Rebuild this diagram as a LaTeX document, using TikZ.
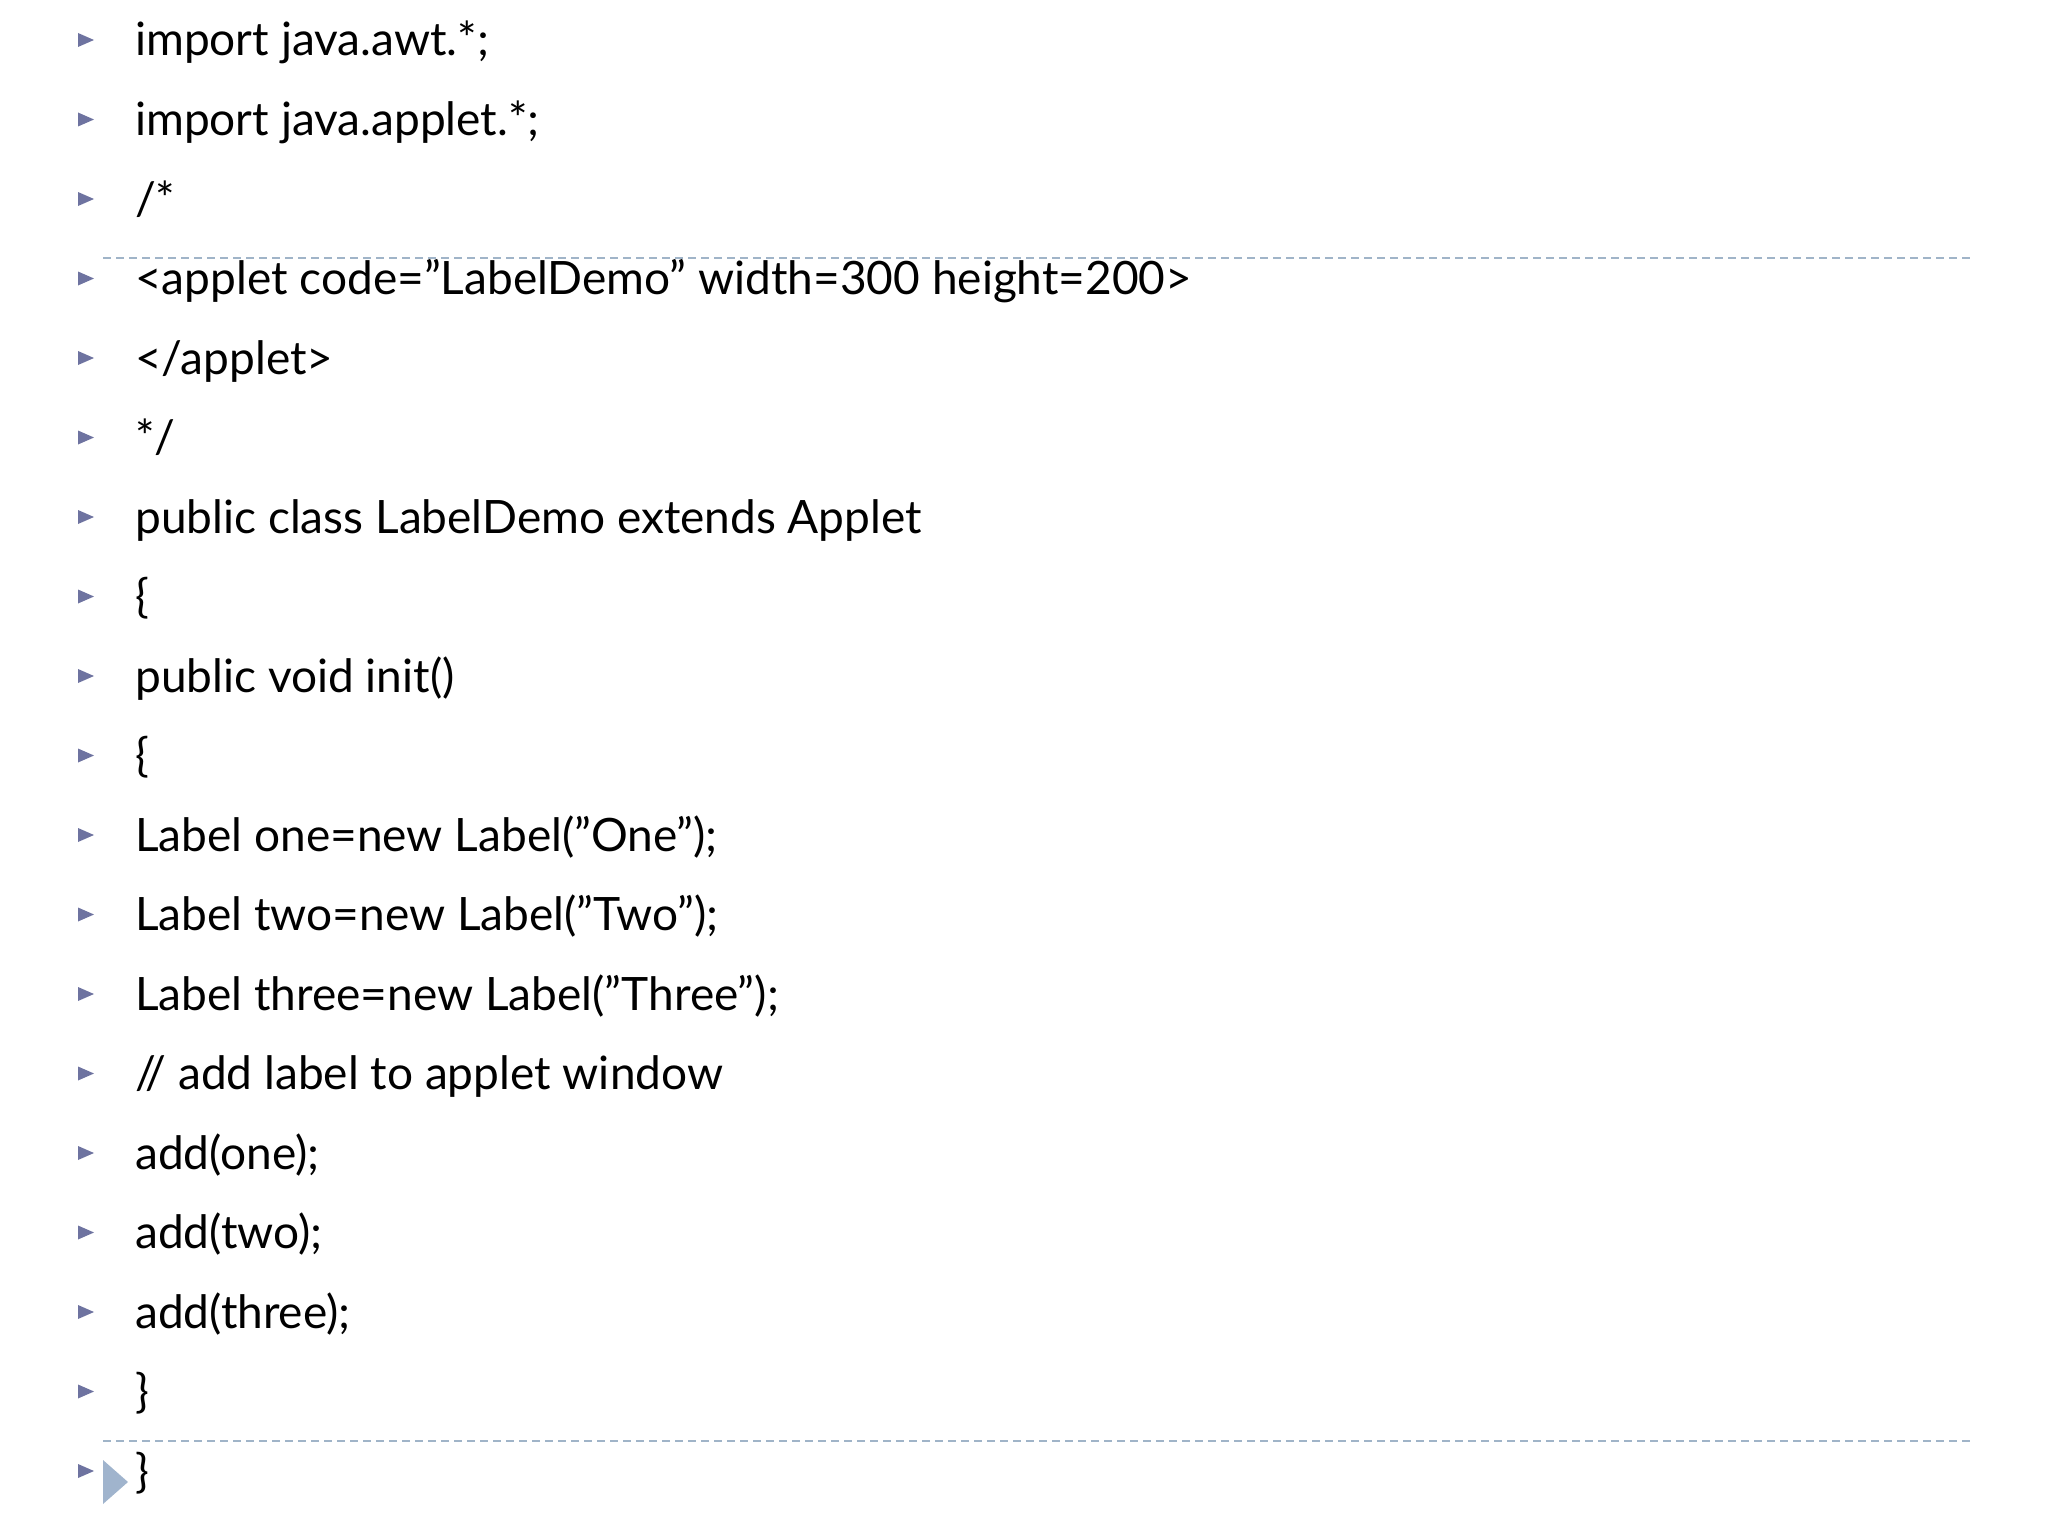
\documentclass[tikz,border=0pt]{standalone}
\usepackage{fontspec}
\setmainfont{Lato}
\begin{document}
\begin{tikzpicture}[x=1pt,y=-1pt,
  bul/.style={fill=bulc,draw=none},
  code/.style={anchor=base west,inner sep=0pt,font=\fontsize{46}{50}\selectfont},
  sep/.style={draw=sepc,dashed,dash pattern=on 8pt off 5pt,line width=1.3pt}]
\definecolor{bulc}{RGB}{110,115,160}
\definecolor{sepc}{RGB}{160,180,200}
\definecolor{bigc}{RGB}{160,180,205}
\useasboundingbox (0,0) rectangle (2048,1536);
\draw[sep] (103,258) -- (1974,258);
\draw[sep] (103,1441) -- (1974,1441);
\foreach \t [count=\i from 0] in {
 {import java.awt.*;},{import java.applet.*;},{/*},
 {<applet code="LabelDemo" width=300 height=200>},{</applet>},{*/},
 {public class LabelDemo extends Applet},{\{},{public void init()},{\{},
 {Label one=new Label("One");},{Label two=new Label("Two");},
 {Label three=new Label("Three");},{// add label to applet window},
 {add(one);},{add(two);},{add(three);},{\}},{\}}}
{
 \pgfmathsetmacro\yy{56+79.5*\i}
 \node[code] (l\i) at (135,\yy) {\t};
 \fill[bulc] (78,\yy-23) -- (94,\yy-16) -- (78,\yy-9) -- cycle;
}
\fill[bigc] (103,1460) -- (128,1482) -- (103,1504) -- cycle;
\end{tikzpicture}
\end{document}
